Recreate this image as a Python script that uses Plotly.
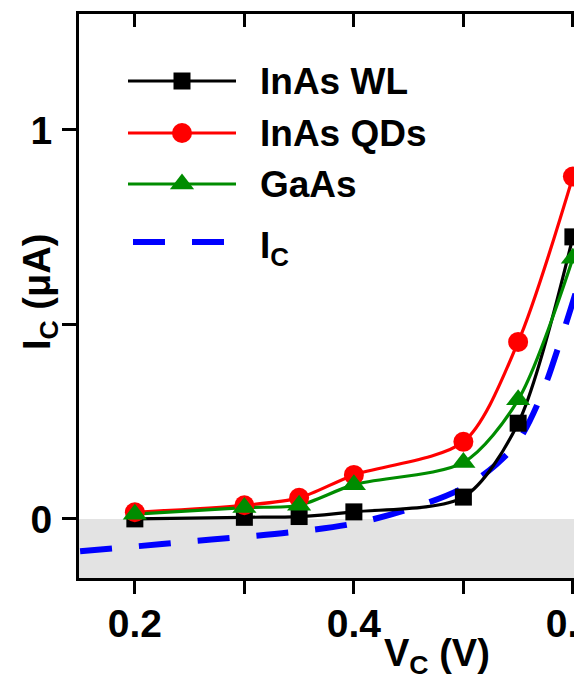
import plotly.graph_objects as go

# ---- data ----
vc = [0.2, 0.3, 0.35, 0.4, 0.5, 0.55, 0.6]
inas_wl = [0.0, 0.004, 0.006, 0.018, 0.056, 0.246, 0.725]
inas_qds = [0.017, 0.035, 0.054, 0.113, 0.198, 0.455, 0.88]
gaas = [0.012, 0.029, 0.035, 0.088, 0.145, 0.306, 0.67]

ic_v = [0.15, 0.20, 0.25, 0.30, 0.35, 0.40, 0.45, 0.50, 0.53, 0.55, 0.57, 0.59, 0.61]
ic_i = [-0.083, -0.071, -0.058, -0.046, -0.032, -0.012, 0.025, 0.08, 0.14, 0.2, 0.31, 0.47, 0.65]

x_ticks = [0.2, 0.3, 0.4, 0.5, 0.6]
x_ticktext = ["0.2", "", "0.4", "", "0.6"]
y_ticks = [0, 0.5, 1]
y_ticktext = ["0", "", "1"]

legend_names = ["InAs WL", "InAs QDs", "GaAs", "I<sub>C</sub>"]

FONT = "Liberation Sans"
W, H = 574, 689
L, R, T, B = 79, 0, 14, 111
PW, PH = W - L - R, H - T - B


def px_to_paper(px, py):
    return (px - L) / PW, (H - B - py) / PH


fig = go.Figure()

fig.add_trace(go.Scatter(x=ic_v, y=ic_i, mode="lines",
                         line=dict(color="#0000ff", width=6, dash="32px,27px", shape="spline"),
                         showlegend=False))
series = [
    (inas_wl, "#000000", "square", 17),
    (inas_qds, "#ff0000", "circle", 20),
    (gaas, "#008c00", "triangle-up", 21),
]
for ys, col, sym, sz in series:
    fig.add_trace(go.Scatter(x=vc, y=ys, mode="lines",
                             line=dict(color=col, width=3.2, shape="spline", smoothing=0.8),
                             showlegend=False))
for ys, col, sym, sz in series:
    fig.add_trace(go.Scatter(x=vc, y=ys, mode="markers",
                             marker=dict(color=col, symbol=sym, size=sz, line=dict(width=0)),
                             showlegend=False))

# dummy trace for the top axis
fig.add_trace(go.Scatter(x=[], y=[], xaxis="x2", yaxis="y", showlegend=False))

# ---- manual legend (pixel coordinate overlay axes) ----
leg_rows = [81, 133, 184, 242]
leg_x0, leg_x1, leg_mid, leg_text_x = 128, 236, 182, 258
for i, (ys, col, sym, sz) in enumerate(series):
    yy = leg_rows[i]
    fig.add_trace(go.Scatter(x=[leg_x0, leg_x1], y=[yy, yy], mode="lines",
                             line=dict(color=col, width=3.2), xaxis="x3", yaxis="y3",
                             showlegend=False, hoverinfo="skip"))
    fig.add_trace(go.Scatter(x=[leg_mid], y=[yy], mode="markers",
                             marker=dict(color=col, symbol=sym, size=sz),
                             xaxis="x3", yaxis="y3", showlegend=False, hoverinfo="skip"))
fig.add_trace(go.Scatter(x=[133, 225], y=[leg_rows[3], leg_rows[3]], mode="lines",
                         line=dict(color="#0000ff", width=6, dash="32px,27px"),
                         xaxis="x3", yaxis="y3", showlegend=False, hoverinfo="skip"))

annotations = []
for i, name in enumerate(legend_names):
    annotations.append(dict(x=leg_text_x, y=leg_rows[i] + (6 if i == 3 else 0), xref="x3", yref="y3",
                            text=name, showarrow=False, xanchor="left", yanchor="middle",
                            font=dict(family=FONT, size=37, color="black", weight="bold")))
# axis titles
tx, ty = px_to_paper(437, 656)
annotations.append(dict(x=tx, y=ty, xref="paper", yref="paper", text="V<sub>C</sub> (V)",
                        showarrow=False, xanchor="center", yanchor="middle",
                        font=dict(family=FONT, size=38, color="black", weight="bold")))
tx, ty = px_to_paper(40, 292)
annotations.append(dict(x=tx, y=ty, xref="paper", yref="paper", text="I<sub>C</sub> (μA)",
                        showarrow=False, xanchor="center", yanchor="middle", textangle=-90,
                        font=dict(family=FONT, size=38, color="black", weight="bold")))

tickfont = dict(family=FONT, size=39, color="black", weight="bold")
xr = [0.149, 0.601]
yr = [-0.152, 1.298]

fig.update_layout(
    width=W, height=H,
    margin=dict(l=L, r=R, t=T, b=B, autoexpand=False),
    paper_bgcolor="white", plot_bgcolor="white",
    showlegend=False,
    xaxis=dict(range=xr, tickvals=x_ticks, ticktext=x_ticktext, ticks="outside",
               ticklen=13, tickwidth=3, tickcolor="black", showline=True, linewidth=3,
               linecolor="black", showgrid=False, zeroline=False, tickfont=tickfont,
               ticklabelstandoff=-4, fixedrange=True, automargin=False,
               ticklabeloverflow="allow"),
    xaxis2=dict(range=xr, overlaying="x", side="top", anchor="y", tickvals=x_ticks,
                ticks="inside", ticklen=13, tickwidth=3, tickcolor="black",
                showticklabels=False, showline=True, linewidth=3, linecolor="black",
                showgrid=False, zeroline=False, fixedrange=True, automargin=False),
    yaxis=dict(range=yr, tickvals=y_ticks, ticktext=y_ticktext, ticks="outside",
               ticklen=14, tickwidth=3, tickcolor="black", showline=True, linewidth=3,
               linecolor="black", showgrid=False, zeroline=False, tickfont=tickfont,
               ticklabelstandoff=2, fixedrange=True, automargin=False),
    xaxis3=dict(range=[L, W - R], overlaying="x", anchor="y3", visible=False,
                fixedrange=True, automargin=False),
    yaxis3=dict(range=[H - B, T], overlaying="y", anchor="x3", visible=False,
                fixedrange=True, automargin=False),
    shapes=[dict(type="rect", xref="paper", yref="y", x0=0, x1=1, y0=yr[0], y1=0,
                 fillcolor="#e3e3e3", line=dict(width=0), layer="below")],
    annotations=annotations,
)

fig.write_html("out.html", config={"displayModeBar": False},
               post_script="document.body.style.margin='0px';document.body.style.overflow='hidden';")
